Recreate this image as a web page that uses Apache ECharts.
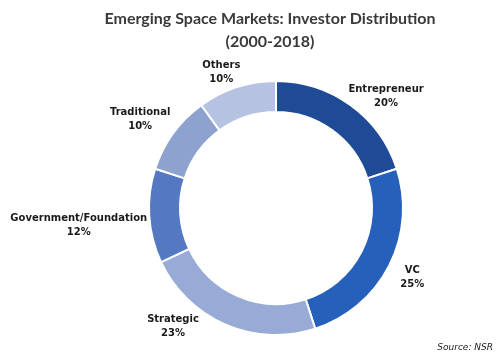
<!DOCTYPE html>
<html>
<head>
<meta charset="utf-8">
<script src="https://cdn.jsdelivr.net/npm/echarts@6/dist/echarts.min.js"></script>
<style>html,body{margin:0;padding:0;background:#fff;}#c{width:504px;height:357px;}</style>
</head>
<body>
<div id="c"></div>
<script>
var categories = ["Entrepreneur", "VC", "Strategic", "Government/Foundation", "Traditional", "Others"];
var values = [20, 25, 23, 12, 10, 10];
var colors = ["#1E4A96", "#2760BA", "#98ABD6", "#5479C2", "#8EA2CF", "#B5C2E2"];
// label placement: radial distance from centre and angular tweak (degrees)
var labelRadius = [157, 153, 157, 198, 162, 146];
var labelAngleShift = [8.5, 0, 17.6, -1.4, -3, -4];

var CX = 276, CY = 208;
var total = values.reduce(function (a, b) { return a + b; }, 0);
var chart = echarts.init(document.getElementById('c'), null, {renderer: 'canvas'});
var data = categories.map(function (c, i) {
  return {name: c, value: values[i], itemStyle: {color: colors[i]}};
});
function midAngle(i) {
  var cum = 0;
  for (var k = 0; k < i; k++) cum += values[k];
  return (cum + values[i] / 2) / total * 360;
}
chart.setOption({
  animation: false,
  title: {
    text: 'Emerging Space Markets: Investor Distribution\n(2000-2018)',
    left: 265, top: 2, textAlign: 'center',
    textStyle: {fontFamily: 'Lato', fontWeight: 'bold', fontSize: 16, color: '#3a3a3a', lineHeight: 23}
  },
  graphic: [{
    type: 'text', right: 11, bottom: 5,
    style: {text: 'Source: NSR', font: 'italic 9px "DejaVu Sans"', fill: '#222'}
  }],
  series: [{
    type: 'pie',
    center: [CX, CY],
    radius: [96, 127],
    startAngle: 90,
    clockwise: true,
    data: data,
    itemStyle: {borderColor: '#fff', borderWidth: 2},
    label: {
      show: true, position: 'outside', overflow: 'none',
      formatter: '{b}\n{d}%',
      fontFamily: 'DejaVu Sans', fontWeight: 'bold', fontSize: 10, color: '#1a1a1a', lineHeight: 14
    },
    labelLine: {show: false},
    labelLayout: function (p) {
      var i = p.dataIndex;
      var a = (midAngle(i) + labelAngleShift[i]) * Math.PI / 180;
      return {
        x: CX + labelRadius[i] * Math.sin(a),
        y: CY - labelRadius[i] * Math.cos(a),
        align: 'center', verticalAlign: 'middle'
      };
    }
  }]
});
</script>
</body>
</html>
